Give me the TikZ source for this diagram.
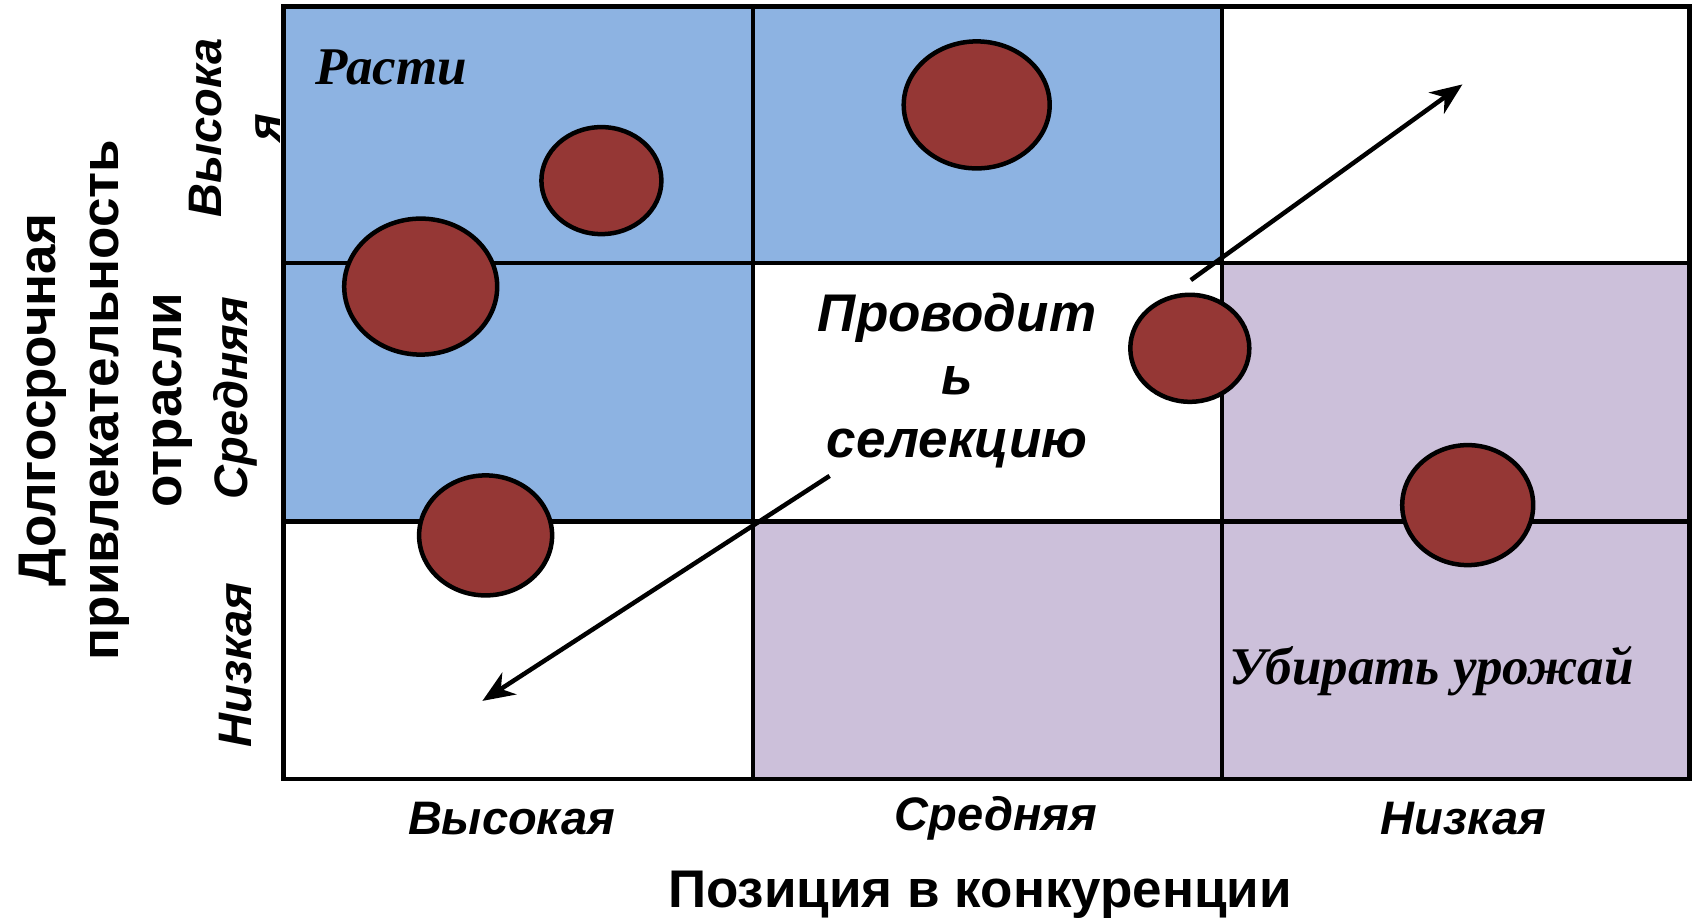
\documentclass[tikz,border=0pt]{standalone}
\usepackage{fontspec}
\setmainfont{Liberation Serif}
\newfontfamily\arialf{Liberation Sans}
\usetikzlibrary{shapes.geometric,arrows.meta}
\definecolor{cellblue}{HTML}{8DB3E2}
\definecolor{celllilac}{HTML}{CCC0DA}
\definecolor{bubble}{HTML}{953735}
\begin{document}
\begin{tikzpicture}[x=1pt,y=-1pt,
  gridline/.style={line width=4.5pt},
  bubblenode/.style={ellipse, draw=black, line width=4.5pt, fill=bubble, inner sep=0pt},
  trendarrow/.style={line width=4.5pt, -{Stealth[length=32pt,width=26pt,inset=10pt]}},
  serifbi/.style={font=\fontsize{53}{58}\selectfont\bfseries\itshape},
  sansbi/.style={font=\arialf\fontsize{47}{59}\selectfont\bfseries\itshape, align=center},
  bigsans/.style={font=\arialf\fontsize{53}{63}\selectfont\bfseries\itshape, align=center},
  titlesans/.style={font=\arialf\fontsize{53}{63}\selectfont\bfseries, align=center}]
\useasboundingbox (0,0) rectangle (1696,921);
\fill[white] (0,0) rectangle (1696,921);
% cell fills
\fill[cellblue] (283.4,6.5) rectangle (1222.2,262.8);
\fill[cellblue] (283.4,262.8) rectangle (752.8,521.3);
\fill[celllilac] (1222.2,262.8) rectangle (1689.5,778.8);
\fill[celllilac] (752.8,521.3) rectangle (1222.2,778.8);
% grid
\draw[gridline] (283.4,6.5) rectangle (1689.5,778.8);
\draw[gridline] (752.8,6.5) -- (752.8,778.8);
\draw[gridline] (1222.2,6.5) -- (1222.2,778.8);
\draw[gridline] (283.4,262.8) -- (1689.5,262.8);
\draw[gridline] (283.4,521.3) -- (1689.5,521.3);
% bubbles
\node[bubblenode, minimum width=120pt, minimum height=107pt] (b1) at (601.4,180.6) {};
\node[bubblenode, minimum width=146pt, minimum height=127pt] (b2) at (976.7,104.9) {};
\node[bubblenode, minimum width=153pt, minimum height=136pt] (b3) at (420.7,286.6) {};
\node[bubblenode, minimum width=119pt, minimum height=107pt] (b4) at (1189.8,348.3) {};
\node[bubblenode, minimum width=131pt, minimum height=120pt] (b5) at (1467.7,505.1) {};
\node[bubblenode, minimum width=133pt, minimum height=120pt] (b6) at (485.6,535.4) {};
% arrows
\coordinate (up1) at (1190.8,280.1);
\coordinate (up2) at (1462.4,84.4);
\coordinate (dn1) at (829.6,475.9);
\coordinate (dn2) at (482.4,700.9);
\draw[trendarrow] (up1) -- (up2);
\draw[trendarrow] (dn1) -- (dn2);
% cell texts
\node[serifbi] (grow) at (391.5,67) {Расти};
\node[serifbi, anchor=west] (harvest) at (1226,671) {Убирать урожай};
\node[bigsans] (select) at (957,381) {Проводит\\ь\\селекцию};
% column labels
\node[sansbi] (colhigh) at (511.6,818.8) {Высокая};
\node[sansbi] (colmid) at (996,818.8) {Средняя};
\node[sansbi] (collow) at (1463.4,818.8) {Низкая};
\node[titlesans] (xtitle) at (980,894.5) {Позиция в конкуренции};
% row labels
\node[sansbi, rotate=90] (rowhigh) at (235,128) {Высока\\я};
\node[sansbi, rotate=90] (rowmid) at (235.8,398) {Средняя};
\node[sansbi, rotate=90] (rowlow) at (235.8,665) {Низкая};
\node[titlesans, rotate=90] (ytitle) at (106,400) {Долгосрочная\\привлекательность\\отрасли};
\end{tikzpicture}
\end{document}
